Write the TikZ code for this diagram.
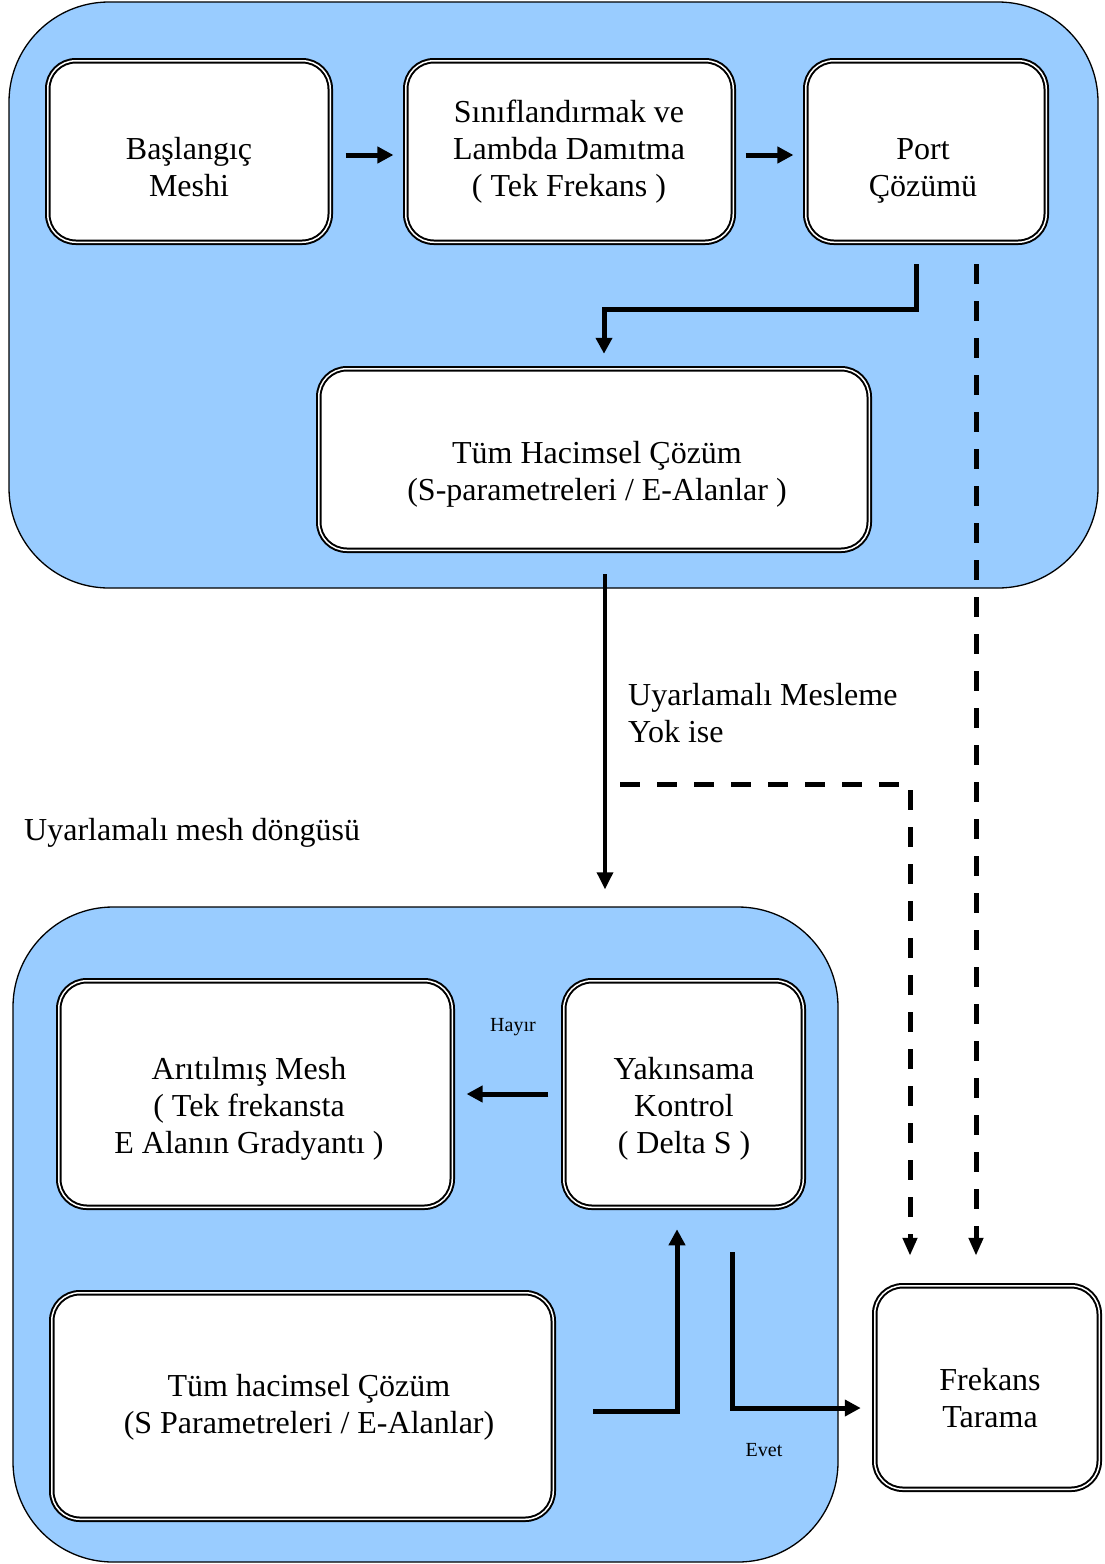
\documentclass[tikz,border=0pt]{standalone}
\usepackage{fontspec}
\setmainfont{Liberation Serif}
\usetikzlibrary{arrows.meta}
\definecolor{panel}{HTML}{99CCFF}
\begin{document}
\begin{tikzpicture}[x=1pt,y=-1pt,
  panelbox/.style={draw=black, line width=1.3pt, fill=panel, rounded corners=100pt, rectangle, inner sep=0pt, outer sep=0pt},
  stepbox/.style={draw=black, double=white, line width=2pt, double distance=1.5pt, fill=white, rounded corners=28pt, rectangle, inner sep=0pt, outer sep=0pt},
  txt/.style={font=\fontsize{32}{37}\selectfont, align=center, inner sep=0pt},
  smalltxt/.style={font=\fontsize{20}{24}\selectfont, inner sep=0pt},
  conn/.style={line width=5pt, -{Triangle[length=16pt,width=16pt]}},
  thinconn/.style={line width=3.5pt, -{Triangle[length=17pt,width=16pt]}},
  dconn/.style={line width=5pt, dash pattern=on 20pt off 17pt, -{Triangle[length=18pt,width=14pt]}}
]
\useasboundingbox (0,0) rectangle (1105,1564);

% panels
\node[panelbox, minimum width=1089pt, minimum height=586pt] (top) at (553.5,295) {};
\node[panelbox, minimum width=825pt, minimum height=655pt] (low) at (425.5,1234.5) {};

% boxes
\node[stepbox, minimum width=282.5pt, minimum height=181.5pt] (b1) at (189,151.5) {};
\node[stepbox, minimum width=327.5pt, minimum height=181.5pt] (b2) at (569.5,151.5) {};
\node[stepbox, minimum width=240.5pt, minimum height=181.5pt] (b3) at (926,151.5) {};
\node[stepbox, minimum width=550.5pt, minimum height=181.5pt] (b4) at (594,459.5) {};
\node[stepbox, minimum width=393.5pt, minimum height=226.5pt] (b5) at (255.5,1094) {};
\node[stepbox, minimum width=239.5pt, minimum height=226.5pt] (b6) at (683.5,1094) {};
\node[stepbox, minimum width=501.5pt, minimum height=226.5pt] (b7) at (302.5,1406) {};
\node[stepbox, minimum width=224.5pt, minimum height=203.5pt] (b8) at (987,1387.5) {};

% texts
\node[txt] (t1) at (189,167) {Başlangıç\\Meshi};
\node[txt] (t2) at (569,152) {Sınıflandırmak ve\\Lambda Damıtma\\( Tek Frekans )};
\node[txt] (t3) at (923,171) {Port\\Çözümü};
\node[txt] (t4) at (597,474) {Tüm Hacimsel Çözüm\\(S-parametreleri / E-Alanlar )};
\node[txt] (t5) at (249,1109) {Arıtılmış Mesh\\( Tek frekansta\\E Alanın Gradyantı )};
\node[txt] (t6) at (684,1109) {Yakınsama\\Kontrol\\( Delta S )};
\node[txt] (t7) at (309,1407) {Tüm hacimsel Çözüm\\(S Parametreleri / E-Alanlar)};
\node[txt] (t8) at (990,1398) {Frekans\\Tarama};

\node[txt, align=left, anchor=west] (lblyok) at (628,713.5) {Uyarlamalı Mesleme\\Yok ise};
\node[txt, anchor=west] (lblloop) at (24,833) {Uyarlamalı mesh döngüsü};
\node[smalltxt] (lblhayir) at (513,1027) {Hayır};
\node[smalltxt] (lblevet) at (764,1450) {Evet};

% connectors
\draw[conn, shorten <=15.3pt, shorten >=12.3pt] ([yshift=-3.5pt]b1.east) -- ([yshift=-3.5pt]b2.west);
\draw[conn, shorten <=12.3pt, shorten >=12.3pt] ([yshift=-3.5pt]b2.east) -- ([yshift=-3.5pt]b3.west);
\draw[conn] ([xshift=-10pt,yshift=-22pt]b3.south) -- ++(0,45) -| ([xshift=10pt,yshift=15pt]b4.north);
\draw[dconn] ([xshift=50pt,yshift=-22pt]b3.south) -- ([xshift=-11pt,yshift=30pt]b8.north);
\draw[thinconn] ([xshift=11pt,yshift=-24pt]b4.south) -- ++(0,315);
\coordinate (yok) at (620,784);
\draw[dconn] (yok) -| ([xshift=-77pt,yshift=30pt]b8.north);
\draw[conn, shorten <=15.3pt, shorten >=14.3pt] (b6.west) -- (b5.east);
\draw[conn] ([xshift=40pt,yshift=-5pt]b7.east) -| ([xshift=-6.5pt,yshift=-22pt]b6.south);
\draw[conn] ([xshift=48.5pt,yshift=-45pt]b6.south) |- ([xshift=-14pt,yshift=-20.5pt]b8.west);
\end{tikzpicture}
\end{document}
